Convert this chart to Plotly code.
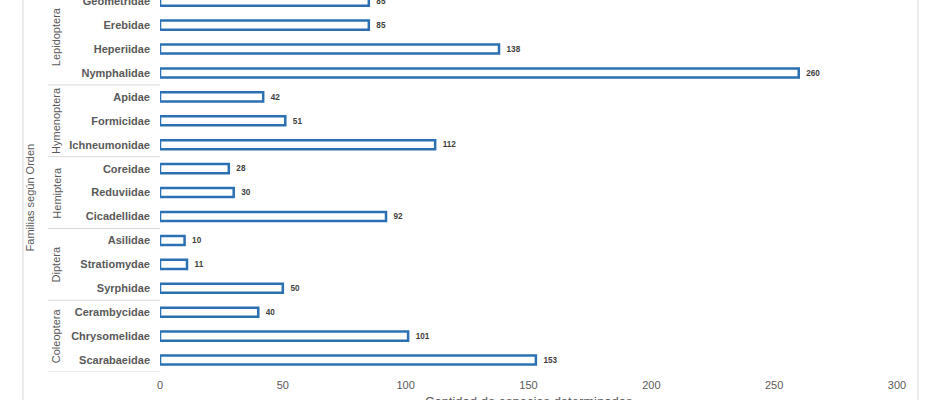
import plotly.graph_objects as go

# Data (bottom to top)
orders = ["Coleoptera", "Diptera", "Hemiptera", "Hymenoptera", "Lepidoptera"]
coleoptera = ["Scarabaeidae", "Chrysomelidae", "Cerambycidae"]
coleoptera_vals = [153, 101, 40]
diptera = ["Syrphidae", "Stratiomydae", "Asilidae"]
diptera_vals = [50, 11, 10]
hemiptera = ["Cicadellidae", "Reduviidae", "Coreidae"]
hemiptera_vals = [92, 30, 28]
hymenoptera = ["Ichneumonidae", "Formicidae", "Apidae"]
hymenoptera_vals = [112, 51, 42]
lepidoptera = ["Nymphalidae", "Heperiidae", "Erebidae", "Geometridae"]
lepidoptera_vals = [260, 138, 85, 85]
x_ticks = [0, 50, 100, 150, 200, 250, 300]

groups = [coleoptera, diptera, hemiptera, hymenoptera, lepidoptera]
group_vals = [coleoptera_vals, diptera_vals, hemiptera_vals, hymenoptera_vals, lepidoptera_vals]

families = [f for g in groups for f in g]
values = [v for g in group_vals for v in g]

BLUE = "#2a70b2"
GRAY = "#595959"
LIGHT = "#d9d9d9"
FONT = "Liberation Sans"

fig = go.Figure(go.Bar(
    y=families, x=values, orientation="h",
    width=0.38,
    marker=dict(color="white", line=dict(color=BLUE, width=2.5)),
    texttemplate="\u00a0\u00a0%{x}", textposition="outside",
    textfont=dict(family=FONT, size=9, color="#404040", weight="bold"),
    cliponaxis=False,
    hoverinfo="x+y",
))

shapes = []
annotations = []
sep_x0 = -0.152
start = 0
for name, g in zip(orders, groups):
    end = start + len(g)
    shapes.append(dict(type="line", xref="paper", yref="y", x0=sep_x0, x1=0,
                       y0=start - 0.5, y1=start - 0.5, line=dict(color=LIGHT, width=1)))
    annotations.append(dict(text=name, xref="paper", yref="y", x=-0.141,
                            y=(start + end - 1) / 2, textangle=-90, showarrow=False,
                            font=dict(family=FONT, size=11, color=GRAY),
                            xanchor="center", yanchor="middle"))
    start = end

# outer chart border lines
for xp in [(23 - 160) / 737, (918 - 160) / 737]:
    shapes.append(dict(type="line", xref="paper", yref="paper", x0=xp, x1=xp,
                       y0=-0.2, y1=1.2, line=dict(color=LIGHT, width=1)))

annotations.append(dict(text="Familias según Orden", xref="paper", yref="paper",
                        x=-0.176, y=0.47, textangle=-90, showarrow=False,
                        font=dict(family=FONT, size=11, color=GRAY),
                        xanchor="center", yanchor="middle"))
annotations.append(dict(text="Cantidad de especies determinadas", xref="paper", yref="paper",
                        x=0.5, y=-0.08, showarrow=False,
                        font=dict(family=FONT, size=13, color=GRAY),
                        xanchor="center", yanchor="middle"))

fig.update_layout(
    width=940, height=400,
    margin=dict(l=160, r=43, t=0, b=28),
    plot_bgcolor="white", paper_bgcolor="white",
    showlegend=False,
    shapes=shapes, annotations=annotations,
    xaxis=dict(range=[0, 300], tickvals=x_ticks, showgrid=False, zeroline=False,
               showline=False, ticks="", automargin=False, ticklabelstandoff=5,
               tickfont=dict(family=FONT, size=11, color=GRAY)),
    yaxis=dict(type="category", categoryorder="array", categoryarray=families,
               range=[-0.5, 15.05], showgrid=False, showline=False, ticks="",
               automargin=False, ticklabelstandoff=9,
               tickfont=dict(family=FONT, size=11, color=GRAY, weight="bold")),
)

fig.write_html("out.html", config={"displayModeBar": False},
               post_script="document.body.style.margin='0';")
